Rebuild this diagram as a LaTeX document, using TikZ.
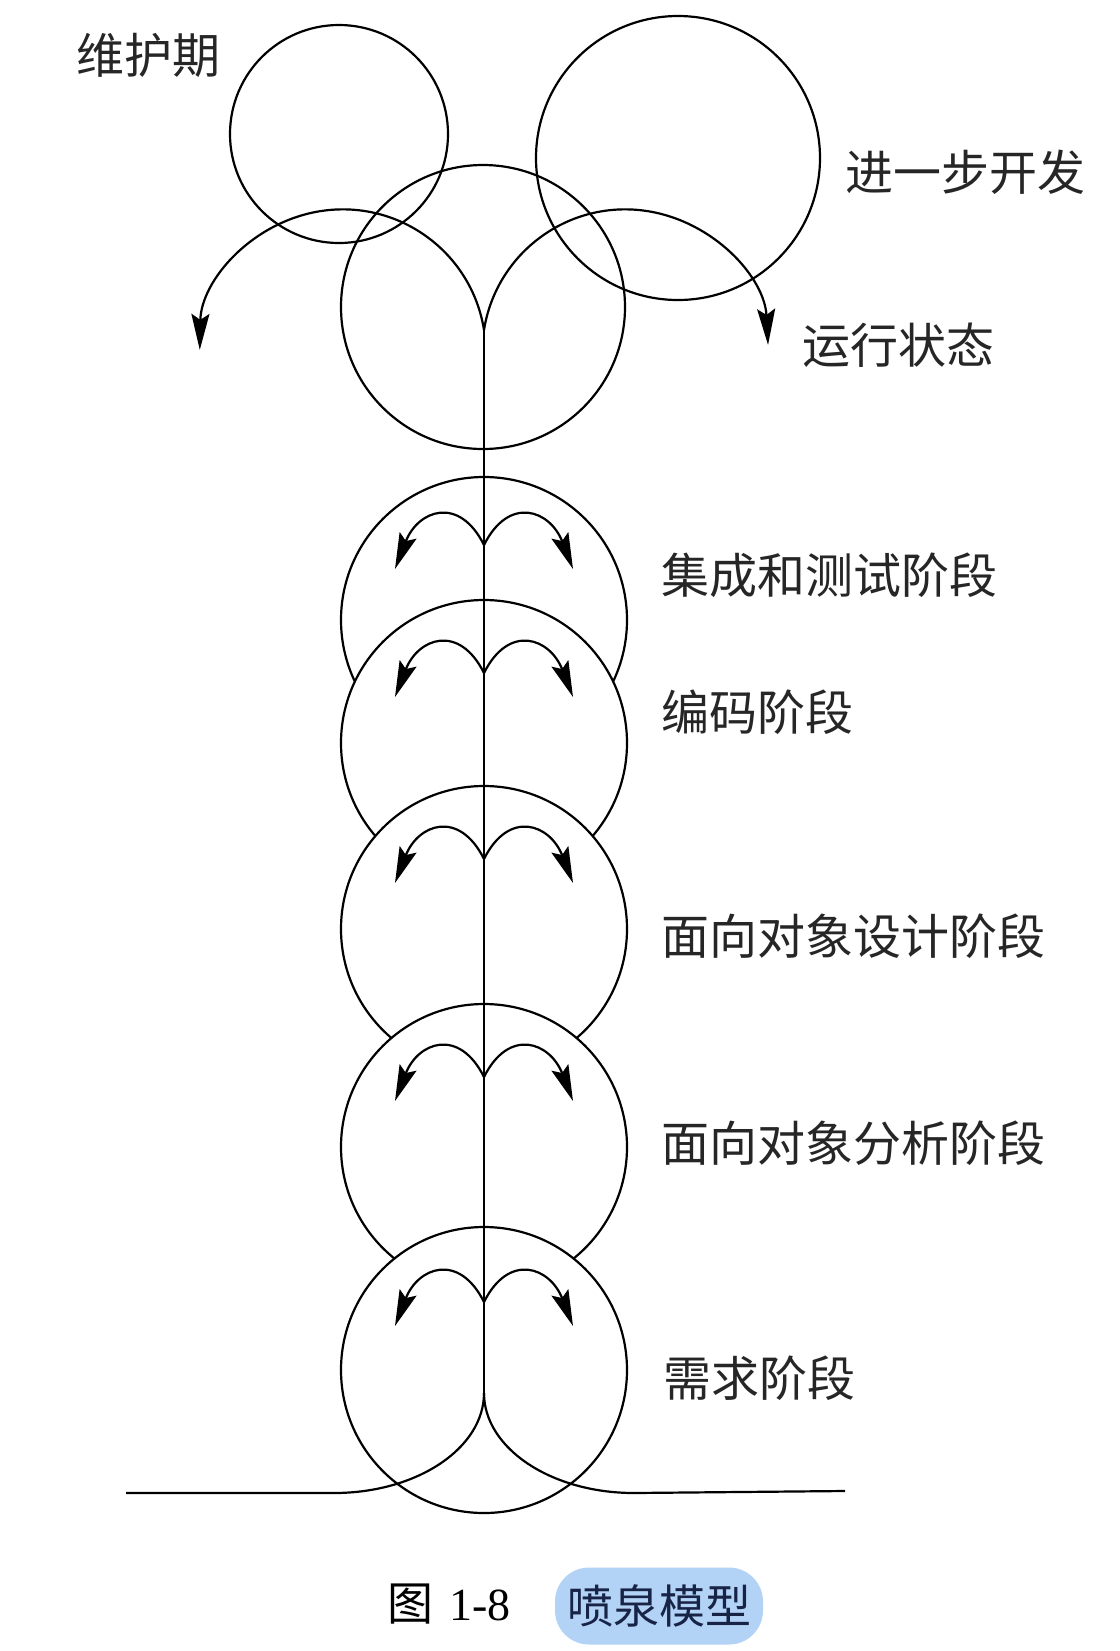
\documentclass[tikz,border=0pt]{standalone}
\usepackage{fontspec}
\newfontfamily\cjk{Noto Sans CJK SC}
\newfontfamily\capfont{Liberation Serif}
\usetikzlibrary{arrows.meta}
\definecolor{capblue}{RGB}{178,210,246}
\definecolor{capink}{RGB}{24,36,70}
\tikzset{
	ring/.style={line width=1.1pt},
	stagering/.style={line width=1.1pt,fill=white},
	flow/.style={line width=1.1pt,-{Stealth[length=18pt,width=9pt,inset=3pt]}},
	stagelabel/.style={anchor=west,inner sep=0pt,text=black!85,font=\cjk\fontsize{24}{28}\selectfont},
}

\begin{document}
\begin{tikzpicture}[x=0.5pt,y=0.5pt]
		\useasboundingbox (0,0) rectangle (1120,-1651);
		% the three loops at the top
		\draw[ring] (339,-134) circle[radius=109];
		\draw[ring] (678,-158) circle[radius=142];
		\draw[ring] (483,-307) circle[radius=142];
		% stage rings, each one hides the lower part of the one above
		\draw[stagering] (484,-620) circle[radius=143];
		\draw[stagering] (484,-743) circle[radius=143];
		\draw[stagering] (484,-929) circle[radius=143];
		\draw[stagering] (484,-1147) circle[radius=143];
		\draw[stagering] (484,-1370) circle[radius=143];
		% main stream
		\coordinate (top) at (484,-330);
		\coordinate (split) at (484,-1393);
		\draw[ring] (top) -- (split);
		\draw[flow] (top) arc[start angle=9,end angle=179,radius=143];
		\draw[flow] (top) arc[start angle=171,end angle=3,radius=143];
		% small fountains in each stage
		\coordinate (v1) at (484,-545);
		\coordinate (v2) at (484,-673);
		\coordinate (v3) at (484,-859);
		\coordinate (v4) at (484,-1077);
		\coordinate (v5) at (484,-1302);
		\draw[flow] (v1) .. controls +(-25,50) and +(23,59) .. +(-89,-24);
		\draw[flow] (v1) .. controls +(25,50) and +(-23,59) .. +(89,-24);
		\draw[flow] (v2) .. controls +(-25,50) and +(23,59) .. +(-89,-24);
		\draw[flow] (v2) .. controls +(25,50) and +(-23,59) .. +(89,-24);
		\draw[flow] (v3) .. controls +(-25,50) and +(23,59) .. +(-89,-24);
		\draw[flow] (v3) .. controls +(25,50) and +(-23,59) .. +(89,-24);
		\draw[flow] (v4) .. controls +(-25,50) and +(23,59) .. +(-89,-24);
		\draw[flow] (v4) .. controls +(25,50) and +(-23,59) .. +(89,-24);
		\draw[flow] (v5) .. controls +(-25,50) and +(23,59) .. +(-89,-24);
		\draw[flow] (v5) .. controls +(25,50) and +(-23,59) .. +(89,-24);
		% ground
		\draw[ring] (split) arc[start angle=0,end angle=-90,x radius=150,y radius=100] -- (126,-1493);
		\draw[ring] (split) arc[start angle=180,end angle=270,x radius=150,y radius=100] -- (845,-1491);
		% labels
		\node[stagelabel] (maint) at (76,-55) {维护期};
		\node[stagelabel] (further) at (845,-172) {进一步开发};
		\node[stagelabel] (running) at (802,-345) {运行状态};
		\node[stagelabel] (integ) at (661,-575) {集成和测试阶段};
		\node[stagelabel] (coding) at (661,-712) {编码阶段};
		\node[stagelabel] (ood) at (661,-936) {面向对象设计阶段};
		\node[stagelabel] (ooa) at (661,-1143) {面向对象分析阶段};
		\node[stagelabel] (req) at (663,-1378) {需求阶段};
		% caption
		\node[anchor=east,inner sep=0pt,font=\capfont\fontsize{23}{28}\selectfont] (fignum) at (511,-1604) {{\cjk 图}\hspace{8pt}1-8};
		\node[fill=capblue,rounded corners=17pt,minimum width=104pt,minimum height=38.5pt,inner sep=0pt,text=capink,font=\cjk\fontsize{23}{28}\selectfont] (title) at (659,-1606) {喷泉模型};
\end{tikzpicture}
\end{document}
